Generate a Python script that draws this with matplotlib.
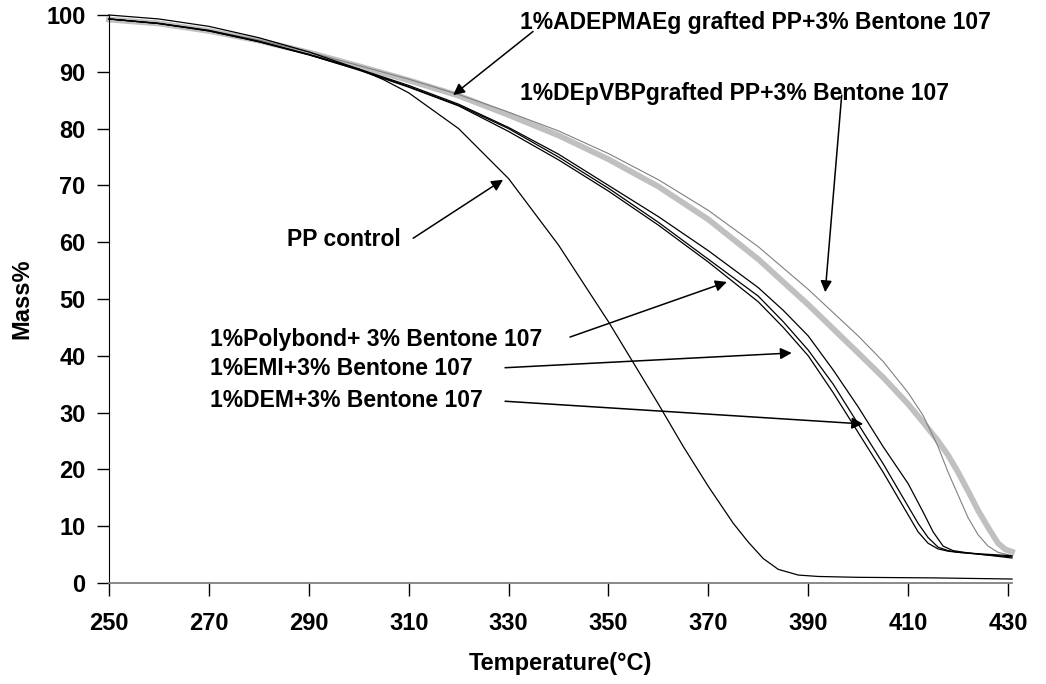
import matplotlib
matplotlib.use("Agg")
import matplotlib.pyplot as plt

plt.rcParams['font.family'] = ['Liberation Sans', 'DejaVu Sans']
plt.rcParams['font.weight'] = 'bold'

# temperature (°C) and mass (%) for each sample
pp_temp = [250, 260, 270, 280, 290, 300, 305, 310, 320, 330, 340, 350, 360, 365,
           370, 375, 378, 381, 384, 388, 392, 400, 415, 430.8]
pp_mass = [100, 99.3, 98.0, 96.0, 93.5, 90.5, 88.6, 86.3, 80.0, 71.2, 59.5, 46.0,
           31.5, 24.0, 17.0, 10.5, 7.2, 4.3, 2.4, 1.4, 1.15, 1.0, 0.9, 0.7]

adep_temp = [250, 260, 270, 280, 290, 300, 310, 320, 330, 340, 350, 360, 370, 380,
             390, 400, 405, 410, 413, 416, 418, 420, 422, 424, 426, 428, 429.5, 430.8]
adep_mass = [99.2, 98.5, 97.2, 95.5, 93.4, 91.0, 88.5, 85.8, 82.4, 78.8, 74.6, 69.8,
             64.0, 57.0, 49.0, 40.5, 36.2, 31.5, 28.3, 25.0, 22.5, 19.5, 16.2, 12.8,
             9.8, 7.0, 5.9, 5.5]

depvbp_temp = [250, 260, 270, 280, 290, 300, 310, 320, 330, 340, 350, 360, 370, 380,
               390, 400, 405, 410, 413, 416, 418, 420, 422, 424, 426, 428, 430.8]
depvbp_mass = [99.3, 98.6, 97.3, 95.6, 93.5, 91.1, 88.7, 86.0, 82.9, 79.6, 75.6, 71.0,
               65.6, 59.2, 51.7, 43.5, 39.0, 33.5, 29.5, 24.0, 19.5, 15.5, 11.5, 8.5,
               6.5, 5.4, 4.8]

emi_temp = [250, 260, 270, 280, 290, 300, 310, 320, 330, 340, 350, 360, 370, 380,
            385, 390, 395, 400, 405, 408, 410, 412, 414, 416, 418, 420, 425, 430.8]
emi_mass = [99.3, 98.5, 97.2, 95.3, 93.0, 90.3, 87.3, 84.0, 79.5, 74.5, 69.0, 63.0,
            56.5, 49.5, 45.0, 40.0, 33.5, 26.5, 19.5, 15.0, 12.0, 9.0, 7.0, 6.0,
            5.6, 5.4, 5.1, 4.8]

poly_temp = [250, 260, 270, 280, 290, 300, 310, 320, 330, 340, 350, 360, 370, 380,
             385, 390, 395, 400, 405, 408, 410, 412, 414, 416, 418, 420, 425, 430.8]
poly_mass = [99.3, 98.5, 97.2, 95.3, 93.0, 90.4, 87.4, 84.1, 80.0, 75.0, 69.5, 63.5,
             57.0, 50.5, 46.0, 41.0, 35.0, 28.0, 21.0, 16.5, 13.5, 10.5, 8.0, 6.3,
             5.7, 5.4, 5.0, 4.6]

dem_temp = [250, 260, 270, 280, 290, 300, 310, 320, 330, 340, 350, 360, 370, 380,
            385, 390, 395, 400, 405, 410, 413, 415, 417, 419, 422, 425, 430.8]
dem_mass = [99.3, 98.5, 97.3, 95.4, 93.1, 90.5, 87.6, 84.3, 80.2, 75.5, 70.0, 64.5,
            58.5, 52.0, 48.0, 43.5, 37.5, 31.0, 24.0, 17.5, 12.5, 9.0, 6.5, 5.7,
            5.3, 5.0, 4.4]

# label text, text anchor, arrow tail, arrow head (data units)
labels = ["1%ADEPMAEg grafted PP+3% Bentone 107",
          "1%DEpVBPgrafted PP+3% Bentone 107",
          "PP control",
          "1%Polybond+ 3% Bentone 107",
          "1%EMI+3% Bentone 107",
          "1%DEM+3% Bentone 107"]
label_pos = [(332.3, 98.6), (332.3, 86.1), (285.6, 60.5),
             (270.2, 42.9), (270.2, 37.7), (270.2, 32.2)]
arrow_tail = [(334.9, 97.1), (396.7, 85.9), (310.9, 60.7),
              (342.3, 43.3), (329.3, 37.9), (329.3, 32.0)]
arrow_head = [(318.9, 85.9), (393.4, 51.2), (328.9, 71.0),
              (373.7, 53.0), (386.7, 40.5), (401.0, 28.0)]

fig = plt.figure(figsize=(10.46, 6.84), dpi=100)
ax = fig.add_axes([0.10421, 0.14766, 0.86329, 0.83041])

ax.plot(adep_temp, adep_mass, color='#c0c0c0', lw=4.2, clip_on=False)
ax.plot(depvbp_temp, depvbp_mass, color='#808080', lw=0.8, clip_on=False)
ax.plot(emi_temp, emi_mass, color='black', lw=0.9, clip_on=False)
ax.plot(poly_temp, poly_mass, color='black', lw=0.9, clip_on=False)
ax.plot(dem_temp, dem_mass, color='black', lw=0.9, clip_on=False)
ax.plot(pp_temp, pp_mass, color='black', lw=0.9, clip_on=False)

for text, pos, tail, head in zip(labels, label_pos, arrow_tail, arrow_head):
    ax.text(pos[0], pos[1], text, fontsize=16.5, fontweight='bold',
            ha='left', va='center')
    ax.annotate("", xy=head, xytext=tail,
                arrowprops=dict(arrowstyle='-|>', color='black', lw=1.1,
                                mutation_scale=17, shrinkA=0, shrinkB=0))

ax.set_xlim(250, 430.8)
ax.set_ylim(0, 100)
ax.set_xticks(range(250, 431, 20))
ax.set_yticks(range(0, 101, 10))
ax.tick_params(direction='out', length=9, width=1, labelsize=17, colors='black')
ax.tick_params(axis='x', pad=12)
ax.tick_params(axis='y', pad=8)
for lbl in ax.get_xticklabels() + ax.get_yticklabels():
    lbl.set_fontweight('bold')

ax.spines['top'].set_visible(False)
ax.spines['right'].set_visible(False)
ax.spines['left'].set_color('black')
ax.spines['bottom'].set_color('#808080')
ax.spines['bottom'].set_linewidth(1.3)

ax.set_xlabel("Temperature(°C)", fontsize=17, fontweight='bold', va='center')
ax.xaxis.set_label_coords(0.5, -0.1426)
ax.set_ylabel("Mass%", fontsize=17, fontweight='bold', va='center')
ax.yaxis.set_label_coords(-0.0968, 0.5)

fig.savefig("out.png", dpi=100)
